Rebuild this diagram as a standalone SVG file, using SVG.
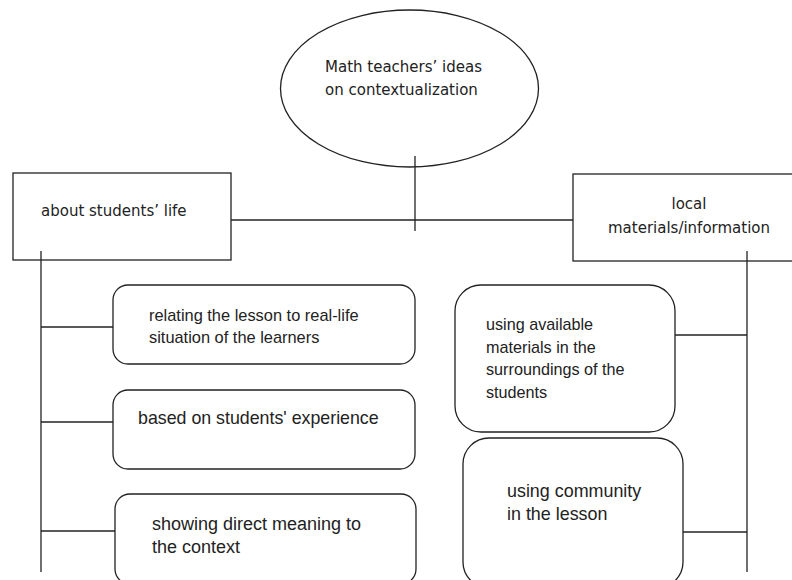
<svg xmlns="http://www.w3.org/2000/svg" width="792" height="580" viewBox="0 0 792 580">
<style>
.shape{fill:#fff;stroke:#222;stroke-width:1.3}
.ln{stroke:#222;stroke-width:1.3;fill:none}
.t1{font-family:"DejaVu Sans",sans-serif;font-size:15px;fill:#222}
.t2{font-family:"Liberation Sans",Arial,sans-serif;fill:#222}
</style>
<rect width="792" height="580" fill="#fff"/>
<g id="connectors">
<line class="ln" x1="415" y1="156" x2="415" y2="231"/>
<line class="ln" x1="231" y1="220" x2="573" y2="220"/>
<line class="ln" x1="41" y1="251" x2="41" y2="572"/>
<line class="ln" x1="41" y1="327" x2="113" y2="327"/>
<line class="ln" x1="41" y1="422" x2="113" y2="422"/>
<line class="ln" x1="41" y1="531" x2="115" y2="531"/>
<line class="ln" x1="747" y1="251" x2="747" y2="572"/>
<line class="ln" x1="672" y1="335" x2="747" y2="335"/>
<line class="ln" x1="683" y1="532" x2="747" y2="532"/>
</g>
<g id="root">
<ellipse class="shape" cx="409.5" cy="88.5" rx="129" ry="78.5"/>
<line class="ln" x1="415" y1="156" x2="415" y2="167"/>
<text class="t1" x="325" y="72">Math teachers’ ideas</text>
<text class="t1" x="325" y="95">on contextualization</text>
</g>
<g id="students-life">
<rect class="shape" x="13" y="173" width="218" height="87"/>
<line class="ln" x1="41" y1="251" x2="41" y2="260"/>
<text class="t1" x="41" y="216">about students’ life</text>
</g>
<g id="local-materials">
<rect class="shape" x="573" y="174" width="230" height="87"/>
<line class="ln" x1="747" y1="251" x2="747" y2="261"/>
<text class="t1" x="689" y="209" text-anchor="middle">local</text>
<text class="t1" x="689" y="233" text-anchor="middle">materials/information</text>
</g>
<g id="real-life">
<rect class="shape" x="113" y="285" width="302" height="79" rx="15"/>
<text class="t2" x="149" y="321" font-size="16.4">relating the lesson to real-life</text>
<text class="t2" x="149" y="343" font-size="16.4">situation of the learners</text>
</g>
<g id="experience">
<rect class="shape" x="113" y="390" width="302" height="79" rx="15"/>
<text class="t2" x="138" y="424" font-size="17.8">based on students' experience</text>
</g>
<g id="direct-meaning">
<rect class="shape" x="115" y="494" width="301" height="90" rx="15"/>
<text class="t2" x="152" y="530" font-size="18">showing direct meaning to</text>
<text class="t2" x="152" y="553" font-size="18">the context</text>
</g>
<g id="available-materials">
<rect class="shape" x="455" y="285" width="220" height="147" rx="26"/>
<text class="t2" x="486" y="330" font-size="16.2">using available</text>
<text class="t2" x="486" y="353" font-size="16.2">materials in the</text>
<text class="t2" x="486" y="375" font-size="16.2">surroundings of the</text>
<text class="t2" x="486" y="398" font-size="16.2">students</text>
</g>
<g id="community">
<rect class="shape" x="463" y="438" width="220" height="150" rx="26"/>
<text class="t2" x="507" y="497" font-size="17.9">using community</text>
<text class="t2" x="507" y="520" font-size="17.9">in the lesson</text>
</g>
</svg>
